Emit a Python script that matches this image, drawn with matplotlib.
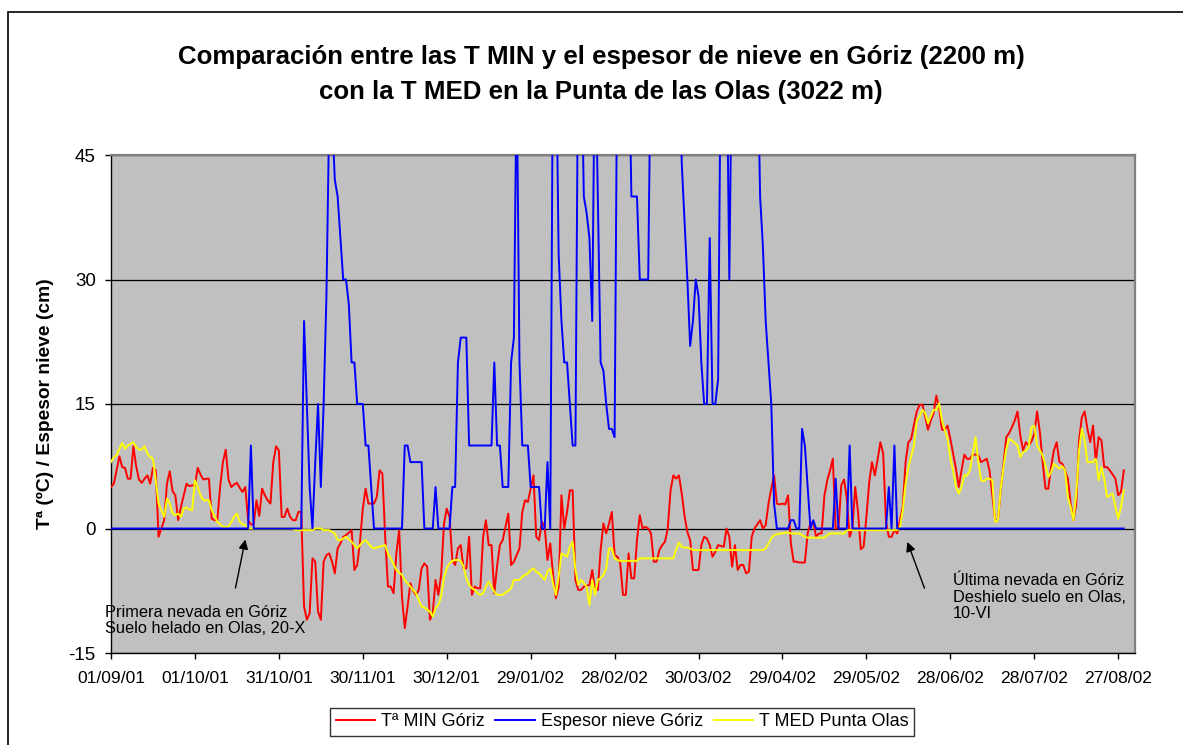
import matplotlib
matplotlib.use('Agg')
import numpy as np
import matplotlib.pyplot as plt
from matplotlib.patches import Rectangle

plt.rcParams['font.family'] = ['Liberation Sans', 'DejaVu Sans']
plt.rcParams['axes.unicode_minus'] = False

# daily series, starting 01/09/01
tmin_goriz = [
    5.0, 5.4, 7.0, 8.7, 7.4, 7.3, 6.0, 6.0, 9.9, 7.5,
    5.9, 5.5, 6.0, 6.4, 5.4, 7.3, 7.0, -1.0, 0.0, 1.0,
    5.4, 6.9, 4.5, 4.0, 1.0, 2.6, 4.0, 5.4, 5.1, 5.2,
    5.2, 7.3, 6.5, 5.9, 6.0, 6.0, 1.2, 1.0, 1.0, 5.0,
    8.0, 9.5, 5.9, 5.0, 5.3, 5.5, 4.9, 4.4, 5.0, 1.0,
    0.5, 0.5, 3.4, 1.5, 4.8, 4.0, 3.4, 3.0, 8.0, 9.9,
    9.4, 1.4, 1.4, 2.4, 1.4, 1.0, 1.0, 2.0, 2.0, -9.4,
    -11.0, -10.2, -3.6, -4.0, -10.0, -11.0, -4.0, -3.2, -3.0, -4.0,
    -5.4, -2.4, -1.8, -1.0, -0.8, -0.5, -0.2, -5.0, -4.4, -1.6,
    2.4, 4.8, 3.0, 3.0, 3.0, 3.8, 7.0, 6.6, -1.0, -7.0,
    -7.0, -7.8, -3.0, -0.2, -8.2, -12.0, -9.4, -6.6, -7.5, -8.0,
    -7.4, -4.8, -4.2, -4.6, -11.0, -10.2, -6.2, -8.0, -5.6, 0.5,
    2.4, 1.4, -3.8, -4.4, -2.4, -2.0, -4.8, -4.8, -1.0, -8.0,
    -7.0, -7.2, -7.2, -1.0, 1.0, -2.0, -2.0, -7.8, -4.5, -2.0,
    -1.4, 0.2, 1.8, -4.4, -4.0, -3.2, -2.4, 2.0, 3.4, 3.2,
    4.8, 6.4, -1.0, -1.4, 0.8, 0.2, -3.8, -1.8, -5.6, -8.4,
    -7.0, 4.0, 0.0, 2.0, 4.6, 4.6, -6.2, -7.4, -7.4, -7.0,
    -6.9, -6.8, -5.0, -7.4, -7.4, -2.6, 0.6, -0.6, 0.6, 2.0,
    -3.2, -3.4, -4.2, -8.0, -8.0, -3.0, -6.0, -6.0, -1.4, 1.6,
    0.0, 0.2, 0.0, -0.6, -4.0, -4.0, -2.6, -2.0, -1.6, 0.0,
    4.6, 6.4, 6.0, 6.4, 4.2, 1.5, -0.4, -1.4, -5.0, -5.0,
    -5.0, -2.0, -1.0, -1.2, -2.0, -3.4, -2.8, -2.0, -2.1, -2.2,
    0.0, -1.0, -4.6, -2.0, -5.0, -4.4, -4.4, -5.4, -5.2, -1.0,
    0.0, 0.5, 1.0, 0.0, 0.4, 3.0, 4.8, 6.4, 3.0, 2.9,
    3.0, 2.9, 4.0, -1.8, -4.0, -4.0, -4.1, -4.1, -4.1, -0.6,
    0.6, 0.8, -1.0, -0.6, -0.6, 4.0, 5.8, 7.0, 8.4, 0.0,
    0.0, 5.2, 5.9, 3.6, -1.0, 0.0, 5.0, 2.0, -2.5, -2.2,
    1.4, 5.6, 8.0, 6.4, 8.3, 10.4, 9.0, 0.8, -1.0, -1.0,
    -0.2, -0.6, 1.0, 2.6, 8.0, 10.4, 10.8, 12.5, 14.1, 14.9,
    14.9, 13.5, 11.9, 13.0, 13.9, 16.0, 14.5, 11.9, 11.9, 12.4,
    10.8, 9.0, 7.2, 5.0, 7.0, 8.9, 8.4, 8.4, 8.9, 8.9,
    8.8, 8.0, 8.2, 8.4, 7.0, 4.0, 1.0, 1.0, 4.6, 7.8,
    11.0, 11.5, 12.2, 13.0, 14.1, 11.2, 9.4, 10.4, 10.0, 10.5,
    11.4, 14.1, 11.6, 8.0, 4.8, 4.8, 7.4, 9.4, 10.4, 8.0,
    7.8, 7.0, 6.0, 3.0, 1.0, 3.0, 10.6, 13.4, 14.1, 12.0,
    10.4, 12.4, 8.0, 11.0, 10.6, 7.4, 7.4, 7.0, 6.5, 6.0,
    4.0, 4.4, 7.0,
]

nieve_goriz = [
    0, 0, 0, 0, 0, 0, 0, 0, 0, 0,
    0, 0, 0, 0, 0, 0, 0, 0, 0, 0,
    0, 0, 0, 0, 0, 0, 0, 0, 0, 0,
    0, 0, 0, 0, 0, 0, 0, 0, 0, 0,
    0, 0, 0, 0, 0, 0, 0, 0, 0, 0,
    10, 0, 0, 0, 0, 0, 0, 0, 0, 0,
    0, 0, 0, 0, 0, 0, 0, 0, 0, 25,
    15, 5, 0, 8, 15, 5, 15, 28, 50, 50,
    42, 40, 35, 30, 30, 27, 20, 20, 15, 15,
    15, 10, 10, 5, 0, 0, 0, 0, 0, 0,
    0, 0, 0, 0, 0, 10, 10, 8, 8, 8,
    8, 8, 0, 0, 0, 0, 5, 0, 0, 0,
    0, 0, 5, 5, 20, 23, 23, 23, 10, 10,
    10, 10, 10, 10, 10, 10, 10, 20, 10, 10,
    5, 5, 5, 20, 23, 55, 20, 10, 10, 10,
    5, 5, 5, 5, 0, 0, 8, 0, 60, 60,
    33, 25, 20, 20, 15, 10, 10, 60, 60, 40,
    38, 35, 25, 60, 40, 20, 19, 15, 12, 12,
    11, 60, 60, 60, 60, 60, 40, 40, 40, 30,
    30, 30, 30, 60, 60, 60, 60, 60, 60, 60,
    60, 60, 60, 60, 44, 37, 30, 22, 25, 30,
    28, 20, 15, 15, 35, 15, 15, 18, 60, 60,
    60, 30, 60, 60, 60, 60, 60, 60, 60, 60,
    60, 60, 40, 34, 25, 20, 15, 3, 0, 0,
    0, 0, 0, 1, 1, 0, 0, 12, 10, 5,
    0, 1, 0, 0, 0, 0, 0, 0, 0, 6,
    0, 0, 0, 0, 10, 0, 0, 0, 0, 0,
    0, 0, 0, 0, 0, 0, 0, 0, 5, 0,
    10, 0, 0, 0, 0, 0, 0, 0, 0, 0,
    0, 0, 0, 0, 0, 0, 0, 0, 0, 0,
    0, 0, 0, 0, 0, 0, 0, 0, 0, 0,
    0, 0, 0, 0, 0, 0, 0, 0, 0, 0,
    0, 0, 0, 0, 0, 0, 0, 0, 0, 0,
    0, 0, 0, 0, 0, 0, 0, 0, 0, 0,
    0, 0, 0, 0, 0, 0, 0, 0, 0, 0,
    0, 0, 0, 0, 0, 0, 0, 0, 0, 0,
    0, 0, 0,
]

tmed_olas = [
    8.0, 8.6, 8.8, 9.6, 10.3, 9.6, 10.0, 10.2, 10.4, 9.8,
    9.5, 9.5, 9.9, 9.0, 8.6, 8.4, 5.8, 3.0, 2.2, 1.4,
    3.6, 3.0, 1.8, 1.6, 1.8, 1.4, 2.4, 2.5, 2.3, 2.2,
    5.8, 5.0, 4.0, 3.4, 3.4, 3.4, 2.2, 1.5, 0.8, 0.5,
    0.2, 0.2, 0.2, 0.8, 1.4, 1.8, 0.8, 0.5, 0.4, 0.0,
    0.0, 0.0, 0.0, 0.0, 0.0, 0.0, 0.0, 0.0, 0.0, 0.0,
    0.0, 0.0, 0.0, 0.0, 0.0, 0.0, -0.2, -0.2, -0.2, -0.2,
    -0.2, -0.2, -0.2, 0.0, 0.0, 0.0, -0.2, -0.2, -0.2, -0.4,
    -0.6, -1.4, -1.4, -1.2, -1.0, -1.3, -1.6, -2.0, -2.4, -2.0,
    -1.6, -1.4, -1.8, -2.2, -2.4, -2.3, -2.2, -2.1, -2.0, -3.0,
    -3.6, -4.3, -5.0, -5.3, -5.6, -6.2, -6.6, -7.0, -7.4, -7.8,
    -8.6, -9.4, -9.5, -9.8, -10.0, -10.6, -9.6, -9.2, -8.2, -6.0,
    -4.8, -4.2, -3.9, -3.8, -3.8, -3.9, -4.6, -6.0, -6.8, -7.2,
    -7.4, -7.8, -8.0, -7.8, -7.0, -6.4, -7.0, -7.6, -8.0, -8.0,
    -8.0, -7.7, -7.5, -7.2, -6.2, -6.2, -6.2, -5.8, -5.6, -5.4,
    -5.0, -4.8, -5.2, -5.4, -5.8, -6.2, -5.2, -4.8, -6.6, -8.0,
    -5.8, -3.0, -3.2, -3.4, -2.2, -1.6, -5.0, -6.8, -6.2, -6.6,
    -7.0, -9.2, -6.2, -8.0, -6.2, -6.0, -5.6, -4.8, -2.4, -2.4,
    -3.6, -3.8, -3.9, -3.9, -3.9, -3.9, -3.9, -3.9, -3.9, -3.6,
    -3.6, -3.6, -3.6, -3.6, -3.6, -3.6, -3.6, -3.6, -3.6, -3.6,
    -3.6, -3.6, -2.5, -1.7, -2.2, -2.3, -2.3, -2.4, -2.6, -2.6,
    -2.6, -2.6, -2.6, -2.6, -2.6, -2.6, -2.6, -2.6, -2.6, -2.6,
    -2.6, -2.6, -2.6, -2.6, -2.6, -2.6, -2.6, -2.6, -2.6, -2.6,
    -2.6, -2.6, -2.6, -2.6, -2.4, -1.8, -1.2, -0.8, -0.7, -0.6,
    -0.6, -0.5, -0.5, -0.6, -0.6, -0.6, -0.6, -0.8, -1.0, -1.1,
    -1.1, -1.1, -1.1, -1.1, -1.1, -1.1, -0.8, -0.6, -0.6, -0.6,
    -0.6, -0.6, -0.6, -0.2, -0.2, -0.2, -0.2, -0.2, -0.2, -0.2,
    -0.2, -0.2, -0.2, -0.2, -0.2, -0.2, -0.2, -0.2, -0.2, -0.2,
    -0.2, -0.2, 0.2, 2.2, 5.4, 7.4, 8.7, 10.0, 13.0, 13.5,
    14.3, 13.9, 12.7, 13.5, 14.3, 14.3, 15.1, 13.0, 11.9, 10.8,
    8.5, 7.0, 5.0, 4.2, 5.0, 6.4, 6.4, 7.0, 9.0, 11.0,
    8.0, 5.8, 5.7, 6.0, 6.0, 5.8, 0.8, 1.0, 4.8, 7.4,
    9.6, 10.8, 10.6, 10.3, 10.0, 8.6, 9.2, 9.4, 9.8, 12.2,
    12.4, 10.0, 9.4, 8.8, 7.6, 6.2, 6.8, 7.8, 7.5, 7.2,
    7.5, 7.0, 3.8, 2.6, 1.0, 4.2, 9.4, 12.0, 10.6, 8.0,
    8.0, 8.0, 8.4, 5.8, 7.4, 6.0, 3.8, 4.0, 4.2, 2.6,
    1.2, 2.6, 4.6,
]

xtick_labels = ['01/09/01', '01/10/01', '31/10/01', '30/11/01', '30/12/01',
                '29/01/02', '28/02/02', '30/03/02', '29/04/02', '29/05/02',
                '28/06/02', '28/07/02', '27/08/02']

dias = np.arange(len(tmin_goriz))

W, H = 1183, 745
fig = plt.figure(figsize=(W / 100, H / 100), dpi=100)
ax = fig.add_axes([111 / W, 1 - 653 / H, (1135 - 111) / W, (653 - 155) / H])
ax.set_facecolor('#C0C0C0')

ax.plot(dias, tmin_goriz, color='#FF0000', lw=1.4, label='Tª MIN Góriz', zorder=3)
ax.plot(dias, nieve_goriz, color='#0000FF', lw=1.4, label='Espesor nieve Góriz', zorder=4)
ax.plot(dias, tmed_olas, color='#FFFF00', lw=1.4, label='T MED Punta Olas', zorder=3)

ax.set_ylim(-15, 45)
ax.set_yticks([-15, 0, 15, 30, 45])
ax.set_xlim(0, 366)
ax.set_xticks(np.arange(len(xtick_labels)) * 30)
ax.set_xticklabels(xtick_labels)
ax.tick_params(axis='both', direction='out', length=4, width=1, colors='black')
ax.tick_params(axis='x', pad=9, labelsize=12.6)
ax.tick_params(axis='y', pad=7, labelsize=13.5)

ax.set_axisbelow(True)
ax.yaxis.grid(True, color='black', lw=0.9)
for s in ['left', 'bottom']:
    ax.spines[s].set_color('black')
    ax.spines[s].set_linewidth(1.0)
for s in ['top', 'right']:
    ax.spines[s].set_color('#808080')
    ax.spines[s].set_linewidth(1.6)

ax.set_ylabel('Tª (ºC) / Espesor nieve (cm)', fontsize=13.9, fontweight='bold')
ax.yaxis.set_label_coords(-0.056, 0.5)

fig.text(601 / W, 1 - 57 / H, 'Comparación entre las T MIN y el espesor de nieve en Góriz (2200 m)',
         ha='center', va='center', fontsize=18.6, fontweight='bold')
fig.text(601 / W, 1 - 92 / H, 'con la T MED en la Punta de las Olas (3022 m)',
         ha='center', va='center', fontsize=18.6, fontweight='bold')

# annotations
ax.annotate('', xy=(48.2, -1.0), xytext=(44.3, -7.5),
            arrowprops=dict(arrowstyle='-|>', color='black', lw=1, mutation_scale=14))
ax.text(-2.2, -9.2, 'Primera nevada en Góriz\nSuelo helado en Olas, 20-X',
        ha='left', va='top', fontsize=11.8, linespacing=1.1, zorder=5)
ax.annotate('', xy=(284.3, -1.3), xytext=(291.1, -7.5),
            arrowprops=dict(arrowstyle='-|>', color='black', lw=1, mutation_scale=14))
ax.text(301.0, -5.4, 'Última nevada en Góriz\nDeshielo suelo en Olas,\n10-VI',
        ha='left', va='top', fontsize=11.8, linespacing=1.1, zorder=5)

leg = ax.legend(loc='center', bbox_to_anchor=(622 / W, 1 - 722 / H), bbox_transform=fig.transFigure,
                ncol=3, fontsize=13, frameon=True, fancybox=False, handlelength=2.2,
                handletextpad=0.3, columnspacing=0.6, borderpad=0.3)
leg.get_frame().set_edgecolor('black')
leg.get_frame().set_linewidth(1.0)

# chart area border (extends past right and bottom edge)
fig.patches.append(Rectangle((8 / W, -0.5), 2, (H - 12) / H + 0.5, transform=fig.transFigure,
                             fill=False, edgecolor='black', lw=1.2))

plt.savefig('out.png', dpi=100)
